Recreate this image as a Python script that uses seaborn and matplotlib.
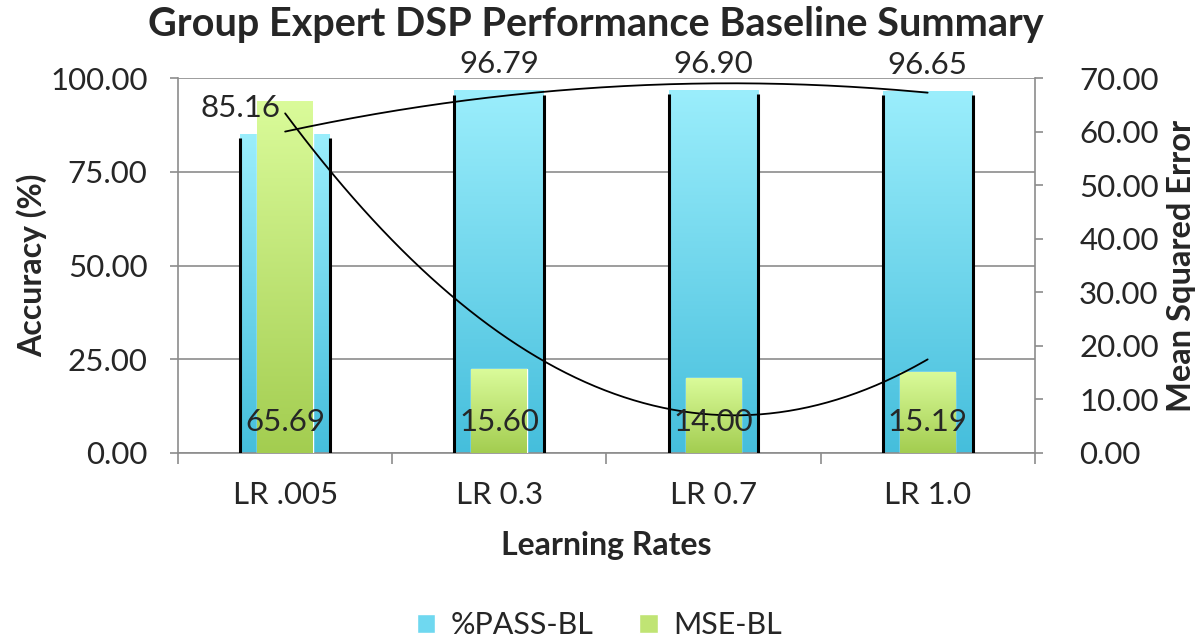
import numpy as np
import matplotlib.pyplot as plt
import seaborn as sns
from matplotlib.patches import Patch
from matplotlib.colors import LinearSegmentedColormap

# =========================
# DATA
# =========================

categories = ["LR .005", "LR 0.3", "LR 0.7", "LR 1.0"]
pass_bl = [85.16, 96.79, 96.90, 96.65]
mse_bl = [65.69, 15.60, 14.00, 15.19]

acc_ticks = [0, 25, 50, 75, 100]
mse_ticks = [0, 10, 20, 30, 40, 50, 60, 70]

# label offsets in pixels (the first accuracy label sits to the left in the original)
acc_label_offsets = [(-45, 12), (0, 12), (0, 12), (0, 12)]

GRAY = "#8c8c8c"

# =========================
# STYLE
# =========================

sns.set_theme(style="ticks")
plt.rcParams['font.family'] = ['Lato', 'DejaVu Sans']


def gradient_fill(axis, top, bottom):
    cmap = LinearSegmentedColormap.from_list("grad", [bottom, top])
    grad = np.linspace(0, 1, 256).reshape(-1, 1)
    for bar in list(axis.patches):
        x0, y0 = bar.get_x(), bar.get_y()
        w, h = bar.get_width(), bar.get_height()
        im = axis.imshow(grad, cmap=cmap, origin="lower", aspect="auto",
                         extent=[x0, x0 + w, y0, y0 + h],
                         zorder=bar.get_zorder(), interpolation="bilinear")
        im.set_clip_path(bar)
        bar.set_facecolor("none")


fig = plt.figure(figsize=(11.99, 6.38), dpi=100)
ax = fig.add_axes([0.1485, 0.29, 0.7145, 0.5877])
ax2 = ax.twinx()

# =========================
# BARS
# =========================

sns.barplot(x=categories, y=pass_bl, ax=ax, width=0.42,
            color="#6fd8f0", saturation=1, zorder=2)
sns.barplot(x=categories, y=mse_bl, ax=ax2, width=0.26,
            color="#c0e474", saturation=1, zorder=2)

gradient_fill(ax, "#9beefc", "#45bedc")
gradient_fill(ax2, "#dafb9a", "#a3cd50")

# dark side edges on the blue bars
for bar in ax.patches:
    x0 = bar.get_x()
    x1 = x0 + bar.get_width()
    h = bar.get_height()
    ax.vlines([x0, x1], 0, h - 1.2, colors="black", lw=2.2, zorder=3)

# =========================
# TRENDLINES (2nd order polynomial, like Excel)
# =========================

xs = np.arange(len(categories))
xfine = np.linspace(0, len(categories) - 1, 200)
acc_fit = np.polyval(np.polyfit(xs, pass_bl, 2), xfine)
mse_fit = np.polyval(np.polyfit(xs, mse_bl, 2), xfine)

ax2.plot(xfine, acc_fit, color="black", lw=1.3, zorder=5,
         transform=ax.transData)
ax2.plot(xfine, mse_fit, color="black", lw=1.3, zorder=5)

# =========================
# LABELS
# =========================

for i, v in enumerate(pass_bl):
    dx, dy = acc_label_offsets[i]
    ax2.annotate(f"{v:.2f}", xy=(i, v), xycoords=ax.transData,
                 xytext=(dx * 0.72, dy * 0.72), textcoords="offset points",
                 ha="center", va="bottom", fontsize=22.5, zorder=6,
                 annotation_clip=False)

for i, v in enumerate(mse_bl):
    ax2.annotate(f"{v:.2f}", xy=(i, 0), xytext=(0, 31 * 0.72),
                 textcoords="offset points", ha="center", va="center",
                 fontsize=22.5, zorder=6)

# =========================
# AXES
# =========================

ax.set_xlim(-0.5, len(categories) - 0.5)
ax2.set_xlim(-0.5, len(categories) - 0.5)
ax.set_ylim(0, 100)
ax2.set_ylim(0, 70)

ax.set_yticks(acc_ticks)
ax.set_yticklabels([f"{t:.2f}" for t in acc_ticks])
ax2.set_yticks(mse_ticks)
ax2.set_yticklabels([f"{t:.2f}" for t in mse_ticks])

ax.set_xticks(xs)
ax.set_xticklabels(categories)
ax.set_xticks(np.arange(len(categories) + 1) - 0.5, minor=True)
ax.tick_params(axis="x", which="major", length=0, pad=20, labelsize=22.5)
ax.tick_params(axis="x", which="minor", length=8, color=GRAY, width=1.2)
ax.tick_params(axis="y", length=6, color=GRAY, width=1.2, pad=16, labelsize=22.5)
ax2.tick_params(axis="y", length=6, color=GRAY, width=1.2, pad=26, labelsize=22.5)

ax.yaxis.grid(True, color=GRAY, lw=1.2)
ax.set_axisbelow(True)

for name, sp in ax.spines.items():
    sp.set_color(GRAY)
    sp.set_linewidth(1.2)
ax.spines["top"].set_visible(False)
ax.spines["right"].set_visible(False)
for name, sp in ax2.spines.items():
    sp.set_visible(name == "right")
ax2.spines["right"].set_color(GRAY)
ax2.spines["right"].set_linewidth(1.2)

ax.set_xlabel("Learning Rates", fontsize=23, weight="bold", labelpad=16)
ax.set_ylabel("Accuracy (%)", fontsize=23, weight="bold", labelpad=2)
ax2.set_ylabel("Mean Squared Error", fontsize=23.5, weight="bold", labelpad=6)

fig.text(0.497, 0.961, "Group Expert DSP Performance Baseline Summary",
         ha="center", va="center", fontsize=28.5, weight="bold")

handles = [Patch(facecolor="#6fd8f0"), Patch(facecolor="#c0e474")]
fig.legend(handles, ["%PASS-BL", "MSE-BL"], loc="center",
           bbox_to_anchor=(0.5, 0.02), ncol=2, frameon=False, fontsize=22,
           handlelength=0.6, handleheight=0.6, columnspacing=1.5,
           handletextpad=0.5)

fig.savefig("out.png", dpi=100)
